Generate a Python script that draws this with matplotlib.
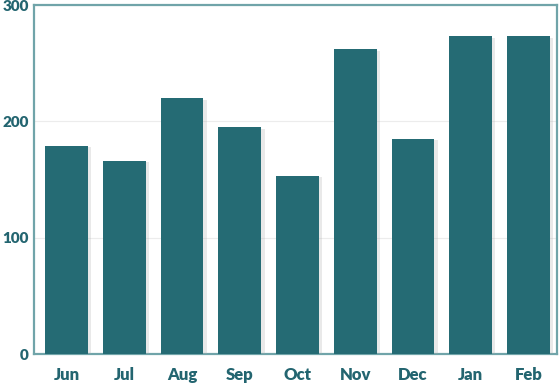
import matplotlib.pyplot as plt
import matplotlib.patheffects as pe

months = ['Jun', 'Jul', 'Aug', 'Sep', 'Oct', 'Nov', 'Dec', 'Jan', 'Feb']
values = [179, 166, 220, 195, 153, 262, 185, 273, 273]
yticks = [0, 100, 200, 300]

bar_color = '#256b74'
edge_color = '#70a4a9'
text_color = '#236570'

fig = plt.figure(figsize=(5.6, 3.9), dpi=100)
ax = fig.add_axes([0.061, 0.092, 0.933, 0.895])

bars = ax.bar(range(len(months)), values, width=0.74, color=bar_color, zorder=3)
for b in bars:
    b.set_path_effects([pe.SimplePatchShadow(offset=(2.5, -1), shadow_rgbFace='#aaaaaa', alpha=0.25),
                        pe.Normal()])

ax.set_xlim(-0.56, len(months) - 0.51)
ax.set_ylim(0, 300)
ax.set_yticks(yticks)
ax.set_xticks(range(len(months)))
ax.set_xticklabels(months)
ax.grid(axis='y', color='#ececec', linewidth=0.8, zorder=0)
ax.tick_params(axis='x', length=0, labelsize=12, labelcolor=text_color, pad=9)
ax.tick_params(axis='y', length=0, labelsize=11, labelcolor=text_color, pad=4)
for lbl in ax.get_xticklabels() + ax.get_yticklabels():
    lbl.set_fontweight('heavy')
    lbl.set_fontfamily('Lato')
for s in ax.spines.values():
    s.set_color(edge_color)
    s.set_linewidth(1.6)

fig.savefig('out.png', dpi=100)
